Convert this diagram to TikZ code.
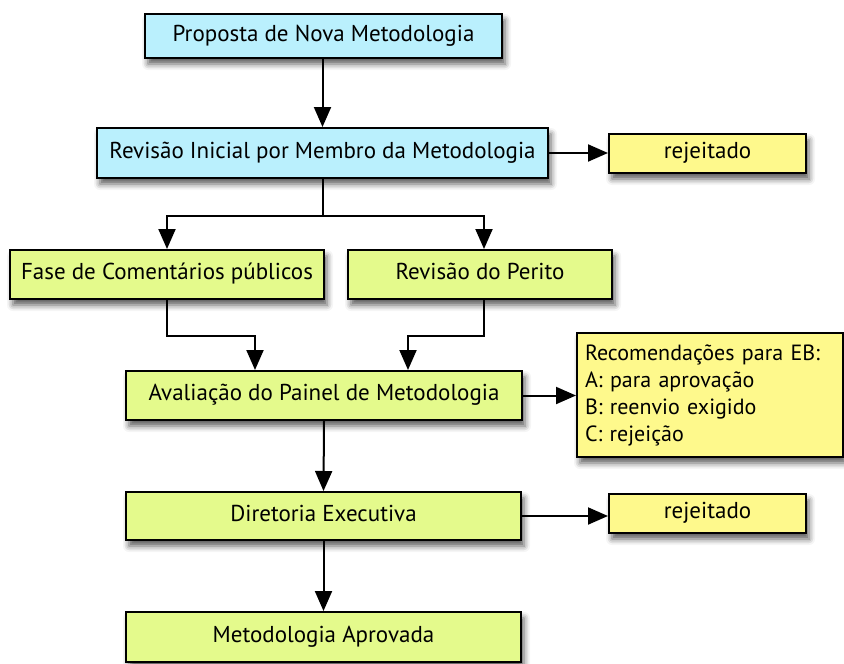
\documentclass[tikz,border=0pt]{standalone}
\usepackage{fontspec}
\setmainfont{PT Sans}
\usetikzlibrary{arrows.meta,shadows.blur,calc}
\definecolor{cyanbox}{RGB}{186,240,253}
\definecolor{greenbox}{RGB}{228,250,140}
\definecolor{yellowbox}{RGB}{254,249,140}
\tikzset{
  box/.style={draw=black, line width=2pt, inner sep=0pt, font=\fontsize{23}{27}\selectfont,
    blur shadow={shadow xshift=3pt, shadow yshift=-6pt, shadow blur radius=6pt, shadow opacity=65}},
  line1/.style={text height=17pt, text depth=7pt},
  cbox/.style={box, line1, fill=cyanbox},
  gbox/.style={box, line1, fill=greenbox},
  ybox/.style={box, line1, fill=yellowbox},
  conn/.style={line width=2pt, -{Triangle[length=20pt,width=17pt]}},
  plain/.style={line width=2pt}
}
\begin{document}
\begin{tikzpicture}[x=1pt,y=-1pt]
\useasboundingbox (0,0) rectangle (844,664);
\node[cbox, minimum width=357pt, minimum height=44pt] (prop) at (323.5,36) {Proposta de Nova Metodologia};
\node[cbox, minimum width=451pt, minimum height=50pt] (rev) at (322.5,153) {Revisão Inicial por Membro da Metodologia};
\node[ybox, minimum width=197pt, minimum height=39pt] (rej1) at (707.5,153.5) {rejeitado};
\node[gbox, minimum width=314pt, minimum height=49pt] (fase) at (167,274.5) {Fase de Comentários públicos};
\node[gbox, minimum width=264pt, minimum height=49pt] (perito) at (480,274.5) {Revisão do Perito};
\node[gbox, minimum width=396pt, minimum height=49pt] (aval) at (324,395.5) {Avaliação do Painel de Metodologia};
\node[box, fill=yellowbox, minimum width=266pt, minimum height=124pt, text width=250pt, align=left,
  font=\fontsize{22}{27}\selectfont] (rec) at (710,395)
  {Recomendações para EB:\\A: para aprovação\\B: reenvio exigido\\C: rejeição};
\node[gbox, minimum width=395pt, minimum height=48pt] (dir) at (323.5,516) {Diretoria Executiva};
\node[ybox, minimum width=197pt, minimum height=39pt] (rej2) at (707.5,513.5) {rejeitado};
\node[gbox, minimum width=395pt, minimum height=50pt] (apr) at (323.5,637) {Metodologia Aprovada};

\coordinate (split) at ($(rev.south)+(0,37)$);
\draw[conn] (prop.south -| rev.north) -- (rev.north);
\draw[conn] (rev.east) -- (rev.east -| rej1.west);
\draw[plain] (rev.south) -- (split);
\draw[conn] (split) -| (fase.north);
\draw[conn] (split) -| ([xshift=4pt]perito.north);
\draw[conn] (fase.south) -- ++(0,36) -| ([xshift=-69pt]aval.north);
\draw[conn] ([xshift=4pt]perito.south) -- ++(0,36) -| ([xshift=84pt]aval.north);
\draw[conn] (aval.east) -- (aval.east -| rec.west);
\draw[conn] (aval.south) -- (dir.north);
\draw[conn] (dir.east) -- (dir.east -| rej2.west);
\draw[conn] (dir.south) -- (apr.north);
\end{tikzpicture}
\end{document}
